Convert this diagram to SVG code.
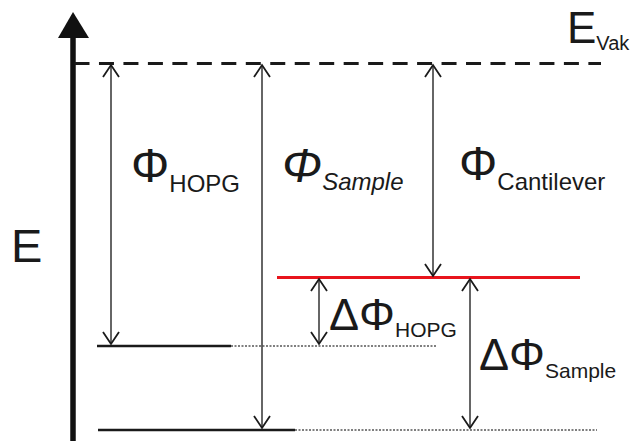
<svg xmlns="http://www.w3.org/2000/svg" width="632" height="441" viewBox="0 0 632 441">
<style>
text{font-family:"Liberation Sans",Arial,sans-serif;fill:#1a1a1a}
.big{font-size:48px}
.mid{font-size:45px}
.sub{font-size:24px}
.sub2{font-size:21px}
.arr{stroke:#333;stroke-width:1.5;fill:none;marker-start:url(#v);marker-end:url(#v)}
.lvl{stroke:#1a1a1a;stroke-width:2.6;fill:none}
.dot{stroke:#555;stroke-width:1.4;stroke-dasharray:2 1.5;fill:none}
</style>
<defs>
<marker id="v" markerUnits="userSpaceOnUse" markerWidth="30" markerHeight="30" viewBox="-15 -15 30 30" refX="0" refY="0" orient="auto-start-reverse" overflow="visible">
<path d="M-12,-8 L0,0 L-12,8" fill="none" stroke="#1a1a1a" stroke-width="1.8"/>
</marker>
</defs>
<rect width="632" height="441" fill="#fff"/>
<g id="axis">
<line x1="73" y1="36" x2="73" y2="441" stroke="#111" stroke-width="5.5"/>
<polygon points="58,38 73,12 89,38" fill="#111"/>
<text x="11" y="262" style="font-size:47px">E</text>
</g>
<g id="vacuum">
<line x1="74.5" y1="63.5" x2="601" y2="63.5" stroke="#1a1a1a" stroke-width="3.2" stroke-dasharray="15 9.47"/>
<text x="567" y="43" style="font-size:44px">E<tspan dy="7" style="font-size:20px">Vak</tspan></text>
</g>
<g id="cantilever-level">
<line x1="277" y1="277.5" x2="580" y2="277.5" stroke="#e8141c" stroke-width="3"/>
</g>
<g id="hopg-level">
<line class="lvl" x1="97" y1="346" x2="231" y2="346"/>
<line class="dot" x1="231" y1="346" x2="436" y2="346"/>
</g>
<g id="sample-level">
<line class="lvl" x1="98" y1="430" x2="295" y2="430"/>
<line class="dot" x1="295" y1="430" x2="597" y2="430"/>
</g>
<g id="connectors">
<line class="arr" x1="111" y1="65" x2="111" y2="344"/>
<line class="arr" x1="262" y1="65" x2="262" y2="428"/>
<line class="arr" x1="433" y1="65" x2="433" y2="276"/>
<line class="arr" x1="319" y1="279" x2="319" y2="344"/>
<line class="arr" x1="470" y1="279" x2="470" y2="428"/>
</g>
<g id="label-phi-hopg">
<text x="131" y="182" class="big">Φ<tspan dy="10" class="sub">HOPG</tspan></text>
</g>
<g id="label-phi-sample">
<text x="282" y="182" class="big" font-style="italic">Φ<tspan dy="8" class="sub">Sample</tspan></text>
</g>
<g id="label-phi-cantilever">
<text x="459" y="180" class="big">Φ<tspan dy="10" class="sub">Cantilever</tspan></text>
</g>
<g id="label-dphi-hopg">
<text x="329" y="330" class="mid">ΔΦ<tspan dy="7" class="sub2">HOPG</tspan></text>
</g>
<g id="label-dphi-sample">
<text x="479" y="370" class="mid">ΔΦ<tspan dy="8" class="sub2">Sample</tspan></text>
</g>
</svg>
